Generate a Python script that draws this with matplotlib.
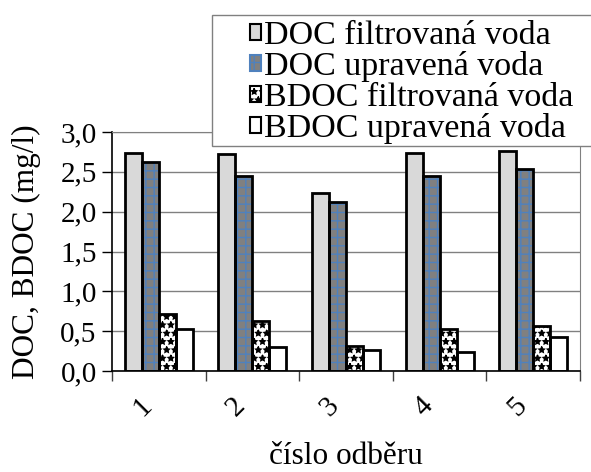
import numpy as np
import matplotlib
matplotlib.use("Agg")
import matplotlib.pyplot as plt
from matplotlib.patches import Patch, Rectangle
from matplotlib.transforms import ScaledTranslation
from matplotlib import ticker

# data
samples = ["1", "2", "3", "4", "5"]
series = ["DOC filtrovaná voda", "DOC upravená voda",
          "BDOC filtrovaná voda", "BDOC upravená voda"]
doc_filt = [2.74, 2.73, 2.23, 2.74, 2.76]
doc_upr = [2.62, 2.45, 2.12, 2.45, 2.54]
bdoc_filt = [0.71, 0.63, 0.31, 0.53, 0.57]
bdoc_upr = [0.53, 0.30, 0.26, 0.24, 0.43]

plt.rcParams.update({
    "font.family": ["Liberation Serif", "DejaVu Serif"],
    "font.size": 21,
    "hatch.linewidth": 1.0,
})

# face, hatch colour, hatch pattern per series
styles = [
    ("#d9d9d9", "#d9d9d9", None),
    ("#808080", "#4f81bd", "++"),
    ("#ffffff", "#000000", "**"),
    ("#ffffff", "#ffffff", None),
]

fig = plt.figure(figsize=(5.91, 4.72), dpi=100)
ax = fig.add_axes([112 / 591, 101 / 472, 468 / 591, 239 / 472])

x = np.arange(len(samples))
w = 0.182
values = [doc_filt, doc_upr, bdoc_filt, bdoc_upr]
for i, (vals, (fc, hc, hatch)) in enumerate(zip(values, styles)):
    pos = x + (i - 1.5) * w
    ax.bar(pos, vals, w, color=fc, edgecolor=hc, hatch=hatch, linewidth=0, zorder=2)
    ax.bar(pos, vals, w, fill=False, edgecolor="black", linewidth=2, zorder=3)

ax.set_xlim(-0.5, len(samples) - 0.5)
ax.set_ylim(0, 3.0)
ax.yaxis.set_major_locator(ticker.MultipleLocator(0.5))
ax.yaxis.set_major_formatter(ticker.FuncFormatter(lambda v, p: f"{v:.1f}".replace(".", ",")))
ax.grid(axis="y", color="#808080", linewidth=1, zorder=0)
ax.set_axisbelow(True)

ax.set_xticks(x)
ax.set_xticklabels(samples, rotation=45, ha="center", va="center", rotation_mode="anchor")
ax.tick_params(axis="x", which="major", length=0, pad=26)
shift = ScaledTranslation(-16 / 100, 0, fig.dpi_scale_trans)
for lab in ax.get_xticklabels():
    lab.set_transform(lab.get_transform() + shift)
ax.set_xticks(np.arange(-0.5, len(samples)), minor=True)
ax.tick_params(axis="x", which="minor", length=7, width=1, color="#404040")
ax.tick_params(axis="y", length=7, width=1, pad=4)

for s in ("top", "right"):
    ax.spines[s].set_color("#808080")
for s in ("left", "bottom"):
    ax.spines[s].set_color("black")
    ax.spines[s].set_linewidth(1.2)

ax.set_ylabel("DOC, BDOC (mg/l)", fontsize=22.5, labelpad=14)
ax.set_xlabel("číslo odběru", fontsize=22.5, labelpad=15)

# legend box runs off the right edge of the figure
box = Rectangle((212 / 591, 1 - 146 / 472), 400 / 591, 131 / 472,
                transform=fig.transFigure, facecolor="white",
                edgecolor="#808080", linewidth=1, zorder=3)
fig.add_artist(box)

handles = [Patch(facecolor=fc, edgecolor="black", hatch=hatch, linewidth=1.5)
           for fc, hc, hatch in styles]
handles[1] = Patch(facecolor="#808080", edgecolor="#4f81bd", hatch="++", linewidth=1.5)
leg = fig.legend(handles, series, loc="upper left",
                 bbox_to_anchor=(250 / 591, 1 - 21 / 472), frameon=False,
                 handlelength=0.33, handleheight=0.33, handletextpad=0.08,
                 labelspacing=0.0, borderpad=0, borderaxespad=0, fontsize=24.5)
leg.set_zorder(4)

fig.savefig("out.png", dpi=100)
